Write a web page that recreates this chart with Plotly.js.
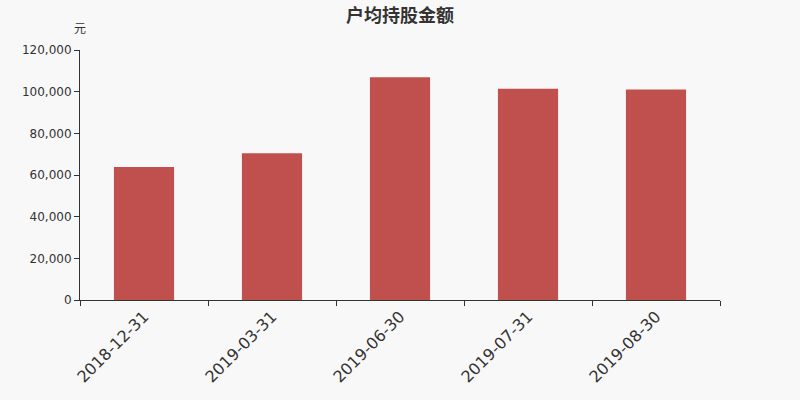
<!DOCTYPE html>
<html>
<head>
<meta charset="utf-8">
<script src="https://cdn.plot.ly/plotly-3.0.1.min.js"></script>
<style>
  html, body { margin: 0; padding: 0; background: #f8f8f8; }
  #chart { width: 800px; height: 400px; }
</style>
</head>
<body>
<div id="chart"></div>
<script>
  // 户均持股金额 (元)
  var dates = ['2018-12-31', '2019-03-31', '2019-06-30', '2019-07-31', '2019-08-30'];
  var amounts = [63800, 70500, 106900, 101400, 101000];
  var yTicks = [0, 20000, 40000, 60000, 80000, 100000, 120000];

  var trace = {
    type: 'bar',
    x: dates,
    y: amounts,
    marker: { color: '#c0504d' },
    hoverinfo: 'x+y'
  };

  var layout = {
    width: 800,
    height: 400,
    paper_bgcolor: '#f8f8f8',
    plot_bgcolor: '#f8f8f8',
    margin: { t: 50, r: 80, l: 80, b: 100 },
    bargap: 0.53,
    showlegend: false,
    font: { family: 'DejaVu Sans, sans-serif', color: '#333' },
    title: {
      text: '<b>户均持股金额</b>',
      font: { family: 'Noto Sans CJK SC, sans-serif', size: 18, color: '#333' },
      x: 0.5,
      xanchor: 'center',
      y: 0.962,
      yanchor: 'middle'
    },
    xaxis: {
      type: 'category',
      tickangle: -45,
      tickson: 'boundaries',
      ticks: 'outside',
      ticklen: 5,
      tickcolor: '#333',
      showline: true,
      linecolor: '#333',
      linewidth: 1,
      showgrid: false,
      zeroline: false,
      tickfont: { size: 16, color: '#333' }
    },
    yaxis: {
      range: [0, 120000],
      tickvals: yTicks,
      tickformat: ',d',
      ticks: 'outside',
      ticklen: 5,
      tickcolor: '#333',
      showline: true,
      linecolor: '#333',
      linewidth: 1,
      showgrid: false,
      zeroline: false,
      tickfont: { size: 12, color: '#333' }
    },
    annotations: [{
      text: '元',
      xref: 'paper',
      yref: 'paper',
      x: 0,
      y: 1,
      xanchor: 'center',
      yanchor: 'bottom',
      yshift: 12,
      showarrow: false,
      font: { family: 'Noto Sans CJK SC, sans-serif', size: 12, color: '#333' }
    }]
  };

  Plotly.newPlot('chart', [trace], layout, { displayModeBar: false, staticPlot: true });
</script>
</body>
</html>
